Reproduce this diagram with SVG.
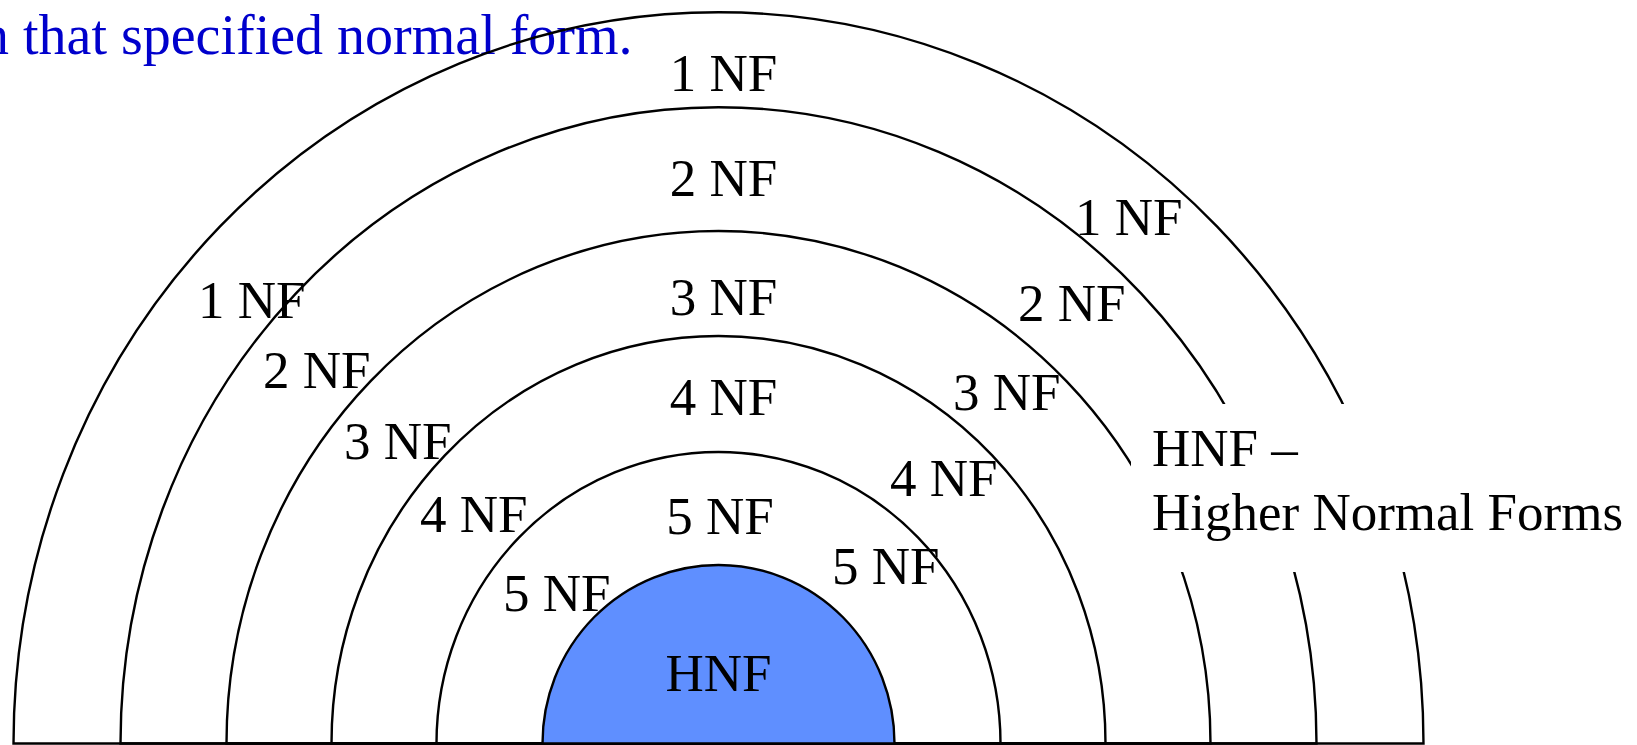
<svg xmlns="http://www.w3.org/2000/svg" width="1637" height="745" viewBox="0 0 1637 745">
<style>
.t{font-family:"Liberation Serif","Times New Roman",serif;font-size:53px;fill:#000}
.arc{fill:none;stroke:#000;stroke-width:2.4}
.blue{font-family:"Liberation Serif","Times New Roman",serif;font-size:56px;fill:#0000cc}
</style>
<rect width="1637" height="745" fill="#fff"/>
<text class="blue" x="-19" y="54">n that specified normal form.</text>
<g id="connectors">
<path id="ring1" class="arc" d="M13.5,743.5 A705,731.5 0 0 1 1423.5,743.5 Z"/>
<path id="ring2" class="arc" d="M120.5,743.5 A598,636.5 0 0 1 1316.5,743.5 Z"/>
<path id="ring3" class="arc" d="M226.5,743.5 A492,512.5 0 0 1 1210.5,743.5 Z"/>
<path id="ring4" class="arc" d="M331.5,743.5 A387,407.5 0 0 1 1105.5,743.5 Z"/>
<path id="ring5" class="arc" d="M436.5,743.5 A282,291.5 0 0 1 1000.5,743.5 Z"/>
</g>
<g id="hnf">
<path d="M542.5,743.5 A176,178.5 0 0 1 894.5,743.5 Z" fill="#5f8fff" stroke="#000" stroke-width="2.4"/>
<text class="t" x="718.5" y="691" text-anchor="middle">HNF</text>
</g>
<rect x="1131" y="404" width="506" height="168" fill="#fff"/>
<g id="nf1">
<text class="t" x="723.5" y="91" text-anchor="middle">1 NF</text>
<text class="t" x="198" y="318">1 NF</text>
<text class="t" x="1075" y="235">1 NF</text>
</g>
<g id="nf2">
<text class="t" x="723.5" y="196" text-anchor="middle">2 NF</text>
<text class="t" x="263" y="388">2 NF</text>
<text class="t" x="1018" y="321">2 NF</text>
</g>
<g id="nf3">
<text class="t" x="723.5" y="315" text-anchor="middle">3 NF</text>
<text class="t" x="344" y="459">3 NF</text>
<text class="t" x="953" y="410">3 NF</text>
</g>
<g id="nf4">
<text class="t" x="723.5" y="415" text-anchor="middle">4 NF</text>
<text class="t" x="420" y="532">4 NF</text>
<text class="t" x="890" y="496">4 NF</text>
</g>
<g id="nf5">
<text class="t" x="720" y="534" text-anchor="middle">5 NF</text>
<text class="t" x="503" y="611">5 NF</text>
<text class="t" x="832" y="584">5 NF</text>
</g>
<g id="legend">
<text class="t" x="1152" y="466">HNF –</text>
<text class="t" x="1152" y="530">Higher Normal Forms</text>
</g>
</svg>
